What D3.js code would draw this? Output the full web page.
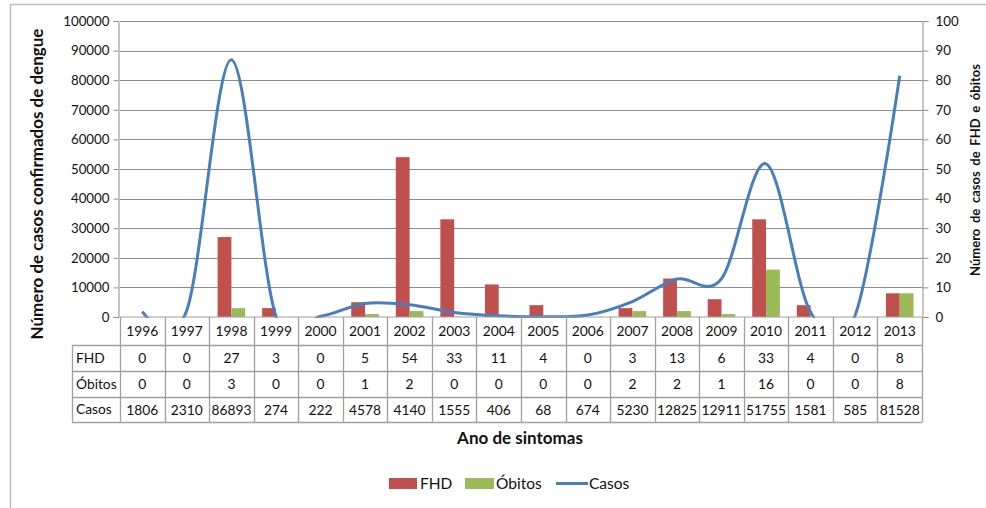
<!DOCTYPE html>
<html>
<head>
<meta charset="utf-8">
<script src="https://cdn.jsdelivr.net/npm/d3@7"></script>
<style>
  body { margin: 0; background: #fff; }
  svg { display: block; font-family: Lato, "Liberation Sans", sans-serif; }
</style>
</head>
<body>
<svg id="chart" width="986" height="508"></svg>
<script>
const years = ["1996","1997","1998","1999","2000","2001","2002","2003","2004","2005","2006","2007","2008","2009","2010","2011","2012","2013"];
const fhd =    [0, 0, 27, 3, 0, 5, 54, 33, 11, 4, 0, 3, 13, 6, 33, 4, 0, 8];
const obitos = [0, 0, 3, 0, 0, 1, 2, 0, 0, 0, 0, 2, 2, 1, 16, 0, 0, 8];
const casos =  [1806, 2310, 86893, 274, 222, 4578, 4140, 1555, 406, 68, 674, 5230, 12825, 12911, 51755, 1581, 585, 81528];
const leftTicks = [0,10000,20000,30000,40000,50000,60000,70000,80000,90000,100000];
const rightTicks = [0,10,20,30,40,50,60,70,80,90,100];

const svg = d3.select("#chart");
const L = 120, R = 922, T = 21, B = 317;
const RED = "#C0504D", GREEN = "#9BBB59", BLUE = "#4A7EBB";

// outer frame
svg.append("path").attr("d", "M10.5,508 V4.5 H986").attr("fill","none").attr("stroke","#bdbdbd").attr("stroke-width",1.5);

const x = d3.scaleBand().domain(years).range([L, R]);
const yL = d3.scaleLinear().domain([0, 100000]).range([B, T]);
const yR = d3.scaleLinear().domain([0, 100]).range([B, T]);
const inner = d3.scaleBand().domain(["FHD","Obitos"]).range([-13.8, 13.8]);

// gridlines
svg.append("g").selectAll("line").data(leftTicks.slice(1)).join("line")
  .attr("x1", L).attr("x2", R).attr("y1", d => Math.round(yL(d)) + 0.5).attr("y2", d => Math.round(yL(d)) + 0.5)
  .attr("stroke", "#8c8c8c").attr("stroke-width", 1);

// left axis
const gL = svg.append("g").attr("transform", `translate(${L - 1.5},0)`)
  .call(d3.axisLeft(yL).tickValues(leftTicks).tickFormat(d3.format("d")).tickSize(5).tickPadding(4));
gL.select(".domain").attr("stroke", "#8c8c8c");
gL.selectAll(".tick line").attr("stroke", "#8c8c8c");
gL.selectAll("text").attr("font-size", 13.3).attr("fill", "#111").attr("font-family", "Lato");

// right axis
const gR = svg.append("g").attr("transform", `translate(${R + 0.5},0)`)
  .call(d3.axisRight(yR).tickValues(rightTicks).tickSize(6).tickPadding(7));
gR.select(".domain").attr("stroke", "#8c8c8c");
gR.selectAll(".tick line").attr("stroke", "#8c8c8c");
gR.selectAll("text").attr("font-size", 13.3).attr("fill", "#111").attr("font-family", "Lato");

// bars
const bars = svg.append("g");
bars.selectAll("rect.fhd").data(years).join("rect").attr("class","fhd")
  .attr("x", (d) => x(d) + x.bandwidth()/2 + inner("FHD"))
  .attr("width", inner.bandwidth())
  .attr("y", (d,i) => yR(fhd[i])).attr("height", (d,i) => B - yR(fhd[i]))
  .attr("fill", RED);
bars.selectAll("rect.ob").data(years).join("rect").attr("class","ob")
  .attr("x", (d) => x(d) + x.bandwidth()/2 + inner("Obitos"))
  .attr("width", inner.bandwidth())
  .attr("y", (d,i) => yR(obitos[i])).attr("height", (d,i) => B - yR(obitos[i]))
  .attr("fill", GREEN);

// line (smoothed, clipped to plot area)
svg.append("clipPath").attr("id","plotclip").append("rect")
  .attr("x", L).attr("y", 0).attr("width", R - L).attr("height", B + 1);
const line = d3.line().x((d,i) => x(years[i]) + x.bandwidth()/2).y(d => yL(d)).curve(d3.curveCatmullRom.alpha(0));
svg.append("path").datum(casos).attr("d", line).attr("fill","none")
  .attr("stroke", BLUE).attr("stroke-width", 3).attr("clip-path","url(#plotclip)");

// data table
const rowY = [B, 345, 371, 397, 422];
const tbl = svg.append("g");
const gridC = "#a0a0a0";
tbl.append("line").attr("x1", L).attr("x2", R).attr("y1", rowY[0]).attr("y2", rowY[0]).attr("stroke", gridC);
[1,2,3,4].forEach(k => {
  tbl.append("line").attr("x1", 72).attr("x2", R).attr("y1", rowY[k] + 0.5).attr("y2", rowY[k] + 0.5).attr("stroke", gridC).attr("stroke-width", 1.3);
});
tbl.append("line").attr("x1", 72.5).attr("x2", 72.5).attr("y1", rowY[1]).attr("y2", rowY[4]).attr("stroke", gridC).attr("stroke-width", 1.3);
const bounds = years.map(d => x(d)).concat([R]);
tbl.selectAll("line.v").data(bounds).join("line").attr("class","v")
  .attr("x1", d => Math.round(d) + 0.5).attr("x2", d => Math.round(d) + 0.5)
  .attr("y1", rowY[0]).attr("y2", rowY[4]).attr("stroke", gridC).attr("stroke-width", 1.3);

const rows = [years, fhd, obitos, casos];
const rowLabels = [null, "FHD", "Óbitos", "Casos"];
rows.forEach((vals, r) => {
  const cy = (rowY[r] + rowY[r+1]) / 2;
  tbl.selectAll(null).data(vals).join("text")
    .attr("x", (d,i) => x(years[i]) + x.bandwidth()/2)
    .attr("y", cy + 5)
    .attr("text-anchor", "middle").attr("font-size", 13.8).attr("fill", "#111")
    .text(d => d);
  if (rowLabels[r]) {
    tbl.append("text").attr("x", 76).attr("y", cy + 4.5).attr("font-size", 13.8).attr("fill", "#111").text(rowLabels[r]);
  }
});

// axis titles
svg.append("text").attr("transform", "translate(43,184) rotate(-90)").attr("text-anchor","middle")
  .attr("font-size", 17).attr("font-weight", "bold").attr("fill", "#111").text("Número de casos confirmados de dengue");
svg.append("text").attr("transform", "translate(980,170) rotate(-90)").attr("text-anchor","middle")
  .attr("font-size", 13).attr("font-weight", "bold").attr("fill", "#111").attr("word-spacing", 2.5).text("Número de casos de FHD e óbitos");
svg.append("text").attr("x", 520).attr("y", 444).attr("text-anchor","middle")
  .attr("font-size", 17).attr("font-weight", "bold").attr("fill", "#111").text("Ano de sintomas");

// legend
const lg = svg.append("g").attr("font-size", 15.5).attr("fill", "#111");
lg.append("rect").attr("x", 389).attr("y", 478).attr("width", 28).attr("height", 11).attr("fill", RED);
lg.append("text").attr("x", 420).attr("y", 489).text("FHD");
lg.append("rect").attr("x", 465).attr("y", 478).attr("width", 29).attr("height", 11).attr("fill", GREEN);
lg.append("text").attr("x", 496).attr("y", 489).text("Óbitos");
lg.append("line").attr("x1", 556).attr("x2", 588).attr("y1", 483.5).attr("y2", 483.5).attr("stroke", BLUE).attr("stroke-width", 3);
lg.append("text").attr("x", 589).attr("y", 489).text("Casos");
</script>
</body>
</html>
